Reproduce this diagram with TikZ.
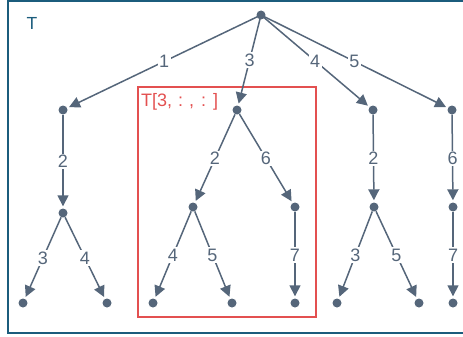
\documentclass[tikz,border=0pt]{standalone}
\usepackage{fontspec}
\setmainfont{Liberation Sans}
\usetikzlibrary{arrows.meta}
\definecolor{slate}{HTML}{55667A}
\definecolor{frame}{HTML}{1B5C7C}
\definecolor{boxred}{HTML}{E35050}
\tikzset{
  dot/.style={circle,fill=slate,inner sep=0pt,minimum size=9pt},
  link/.style={draw=slate,line width=1.5pt,-{Triangle[length=11pt,width=11pt]},shorten >=2pt},
  lbl/.style={fill=white,text=slate,font=\fontsize{18}{18}\selectfont,inner sep=1.5pt,midway},
}
\begin{document}
\begin{tikzpicture}[x=1pt,y=-1pt]
\useasboundingbox (0,0) rectangle (463,337);
% outer frame, open on the right
\draw[frame,line width=1.2pt] (464,1) -- (8,1) -- (8,333) -- (464,333);
\node[text=frame,font=\fontsize{17.5}{18}\selectfont] (title) at (32,23) {T};
% highlighted subtree
\draw[boxred,line width=1.1pt] (138,87) rectangle (316,317);
\node[text=boxred,font=\fontsize{18}{18}\selectfont,anchor=west,inner sep=0pt] (sub) at (141,102)
  {T[3,\hspace{6pt}:\hspace{6pt},\hspace{7pt}:\hspace{7pt}]};
% vertices
\node[dot] (r) at (261,15) {};
\node[dot] (a) at (63,110) {};
\node[dot] (b) at (237,110) {};
\node[dot] (c) at (373,110) {};
\node[dot] (d) at (452,110) {};
\node[dot] (a1) at (63,213) {};
\node[dot] (b1) at (193,207) {};
\node[dot] (b2) at (295,207) {};
\node[dot] (c1) at (374,207) {};
\node[dot] (d1) at (453,207) {};
\node[dot] (a11) at (23,303) {};
\node[dot] (a12) at (107,303) {};
\node[dot] (b11) at (153,303) {};
\node[dot] (b12) at (232,303) {};
\node[dot] (b21) at (295,303) {};
\node[dot] (c11) at (337,303) {};
\node[dot] (c12) at (419,303) {};
\node[dot] (d11) at (453,303) {};
% edges
\draw[link] (r.center) -- (a) node[lbl] {1};
\draw[link] (r.center) -- (b) node[lbl] {3};
\draw[link] (r.center) -- (c) node[lbl] {4};
\draw[link] (r.center) -- (d) node[lbl] {5};
\draw[link] (a) -- (a1) node[lbl] {2};
\draw[link] (b) -- (b1) node[lbl] {2};
\draw[link] (b) -- (b2) node[lbl] {6};
\draw[link] (c) -- (c1) node[lbl] {2};
\draw[link] (d) -- (d1) node[lbl] {6};
\draw[link] (a1) -- (a11) node[lbl] {3};
\draw[link] (a1) -- (a12) node[lbl] {4};
\draw[link] (b1) -- (b11) node[lbl] {4};
\draw[link] (b1) -- (b12) node[lbl] {5};
\draw[link] (b2) -- (b21) node[lbl] {7};
\draw[link] (c1) -- (c11) node[lbl] {3};
\draw[link] (c1) -- (c12) node[lbl] {5};
\draw[link] (d1) -- (d11) node[lbl] {7};
\end{tikzpicture}
\end{document}
